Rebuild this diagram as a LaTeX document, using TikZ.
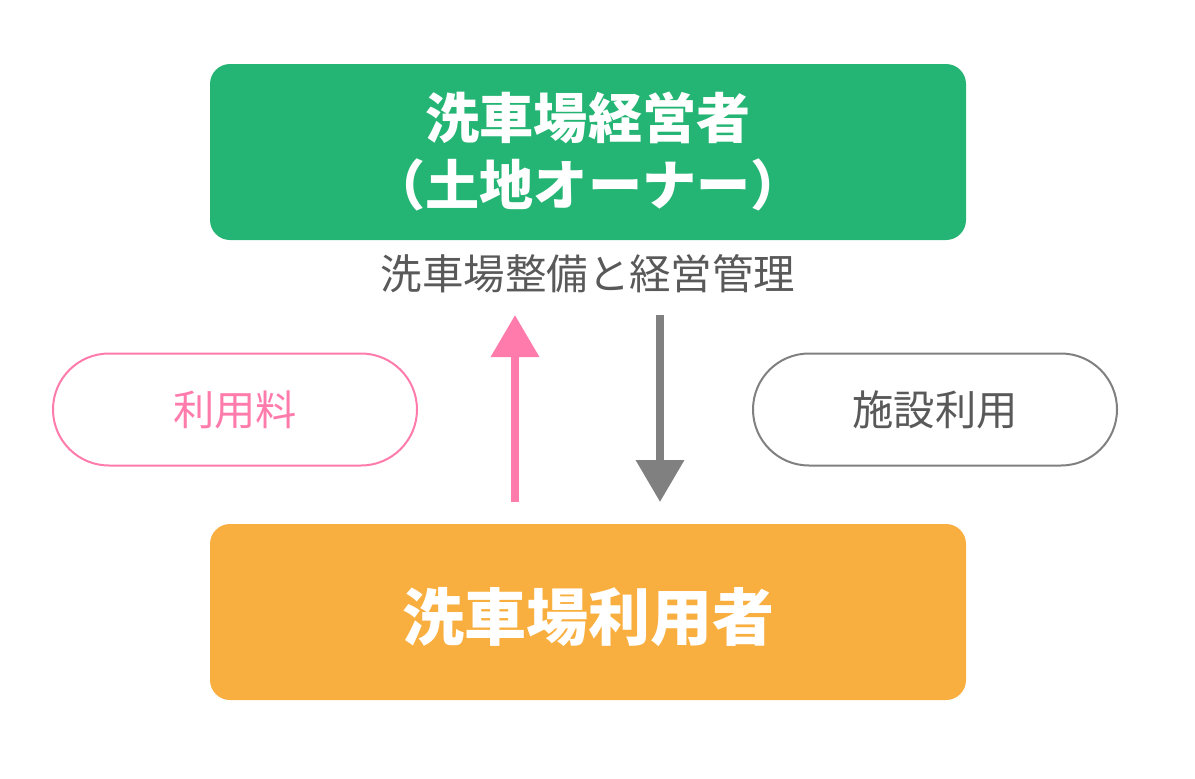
\documentclass[tikz,border=0pt]{standalone}
\usepackage{fontspec}
\setmainfont{Noto Sans CJK JP}
\usetikzlibrary{arrows.meta}
\definecolor{gbox}{HTML}{24B574}
\definecolor{obox}{HTML}{F9AF3F}
\definecolor{pinkc}{HTML}{FF7BAC}
\definecolor{grayc}{HTML}{808080}
\definecolor{textg}{HTML}{595959}
\tikzset{
  boxstyle/.style={rounded corners=15pt, inner sep=0pt, minimum width=567pt, minimum height=132pt},
  pillstyle/.style={rounded corners=42pt, line width=1.5pt, fill=white, minimum width=273pt, minimum height=84pt, inner sep=0pt},
  bigtext/.style={text=white, font=\bfseries\fontsize{40.6}{44}\selectfont},
  midtext/.style={font=\fontsize{31.1}{34}\selectfont},
  pilltext/.style={font=\fontsize{31}{34}\selectfont},
  flowarrow/.style={line width=6pt, -{Triangle[length=31.5pt,width=35pt]}}
}
\begin{document}
\begin{tikzpicture}[x=0.75pt,y=-0.75pt]
\useasboundingbox (0,0) rectangle (1195,778);
% boxes
\node[boxstyle, fill=gbox] (owner) at (588,152) {};
\node[bigtext] (ownerA) at (588,118) {洗車場経営者};
\node[bigtext] (ownerB) at (588,185) {（土地オーナー）};
\node[midtext, text=textg] (role) at (588,274) {洗車場整備と経営管理};
\node[boxstyle, fill=obox] (user) at (588,612) {};
\node[text=white, font=\bfseries\fontsize{46.5}{50}\selectfont] (userT) at (588,617) {洗車場利用者};
% pills
\node[pillstyle, pilltext, draw=pinkc, text=pinkc] (fee) at (235,409.5) {利用料};
\node[pillstyle, pilltext, draw=grayc, text=textg] (use) at (935,409.5) {施設利用};
% arrows
\coordinate (pinkS) at (515,502);
\coordinate (pinkE) at (515,315);
\coordinate (grayS) at (660,315);
\coordinate (grayE) at (660,502);
\draw[flowarrow, draw=pinkc, fill=pinkc] (pinkS) -- (pinkE);
\draw[flowarrow, draw=grayc, fill=grayc] (grayS) -- (grayE);
\end{tikzpicture}
\end{document}
